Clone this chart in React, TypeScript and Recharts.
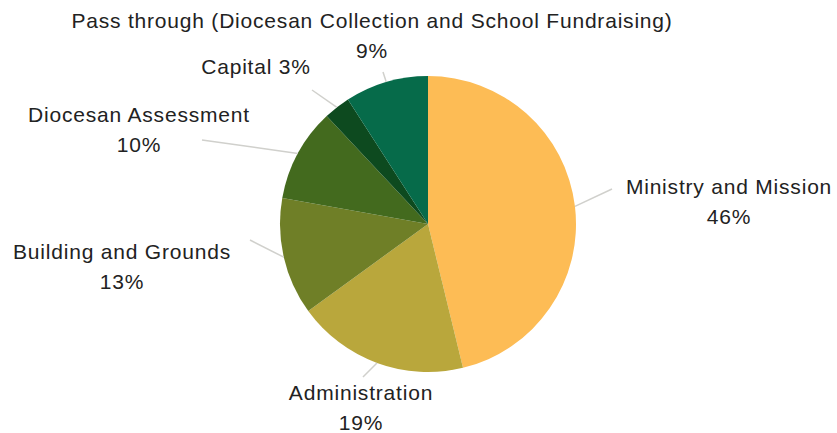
import React from 'react';
import { PieChart, Pie, Cell } from 'recharts';

// Parish budget split (percent of total), clockwise from 12 o'clock
const categories = [
  'Ministry and Mission',
  'Administration',
  'Building and Grounds',
  'Diocesan Assessment',
  'Capital',
  'Pass through (Diocesan Collection and School Fundraising)',
];
const shares = [46.2, 18.8, 12.8, 10.2, 2.9, 9.1];
const shareLabels = ['46%', '19%', '13%', '10%', '3%', '9%'];
const colors = ['#FDBC55', '#B9A73C', '#6F7F27', '#436A1E', '#0D4A1F', '#066B4A'];

const data = categories.map((name, i) => ({ name, value: shares[i], pct: shareLabels[i] }));

// where each label block sits and where its leader line ends
const labelSpots = [
  { x: 729, y: 194, lx: 612, ly: 189, oneLine: false },
  { x: 361, y: 400, lx: 363, ly: 377, oneLine: false },
  { x: 122, y: 259, lx: 250, ly: 240, oneLine: false },
  { x: 139, y: 122, lx: 202, ly: 140, oneLine: false },
  { x: 256, y: 74, lx: 312, ly: 90, oneLine: true },
  { x: 372, y: 28, lx: 383, ly: 72, oneLine: false },
];

const RADIAN = Math.PI / 180;

const renderLabel = (props: any) => {
  const { cx, cy, midAngle, outerRadius, index } = props;
  const spot = labelSpots[index];
  const sx = cx + outerRadius * Math.cos(-midAngle * RADIAN);
  const sy = cy + outerRadius * Math.sin(-midAngle * RADIAN);
  const d = data[index];
  const textStyle = {
    fontFamily: '"Liberation Sans", Arial, sans-serif',
    fontSize: 21,
    letterSpacing: 0.8,
    fill: '#222222',
  };
  return (
    <g key={`lbl-${index}`}>
      <line x1={sx} y1={sy} x2={spot.lx} y2={spot.ly} stroke="#D0D0CC" strokeWidth={1.5} />
      {spot.oneLine ? (
        <text x={spot.x} y={spot.y} textAnchor="middle" style={textStyle}>
          {`${d.name} ${d.pct}`}
        </text>
      ) : (
        <text x={spot.x} y={spot.y} textAnchor="middle" style={textStyle}>
          <tspan x={spot.x} y={spot.y}>{d.name}</tspan>
          <tspan x={spot.x} y={spot.y + 30}>{d.pct}</tspan>
        </text>
      )}
    </g>
  );
};

const App = () => {
  return (
    <div style={{ position: 'absolute', left: 0, top: 0, width: 837, height: 433, background: '#fff' }}>
      <PieChart width={837} height={433} margin={{ top: 0, right: 0, bottom: 0, left: 0 }}>
        <Pie
          data={data}
          dataKey="value"
          nameKey="name"
          cx={428}
          cy={224}
          outerRadius={148}
          startAngle={90}
          endAngle={-270}
          stroke="none"
          label={renderLabel}
          labelLine={false}
          isAnimationActive={false}
        >
          {data.map((entry, i) => (
            <Cell key={entry.name} fill={colors[i]} />
          ))}
        </Pie>
      </PieChart>
    </div>
  );
};

export default App;
